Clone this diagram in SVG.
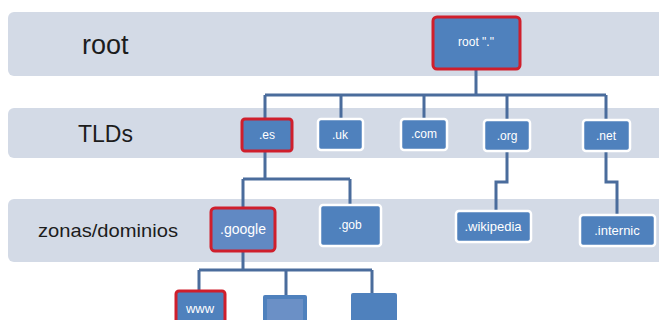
<svg xmlns="http://www.w3.org/2000/svg" width="659" height="320" viewBox="0 0 659 320">
<style>
.band{fill:#d3dae6}
.lbl{font-family:"Liberation Sans",Arial,sans-serif;fill:#1c1c1c}
.box{fill:#4f81bd;stroke:#ffffff;stroke-width:2.5}
.sel{fill:#4f81bd;stroke:#cf1f2c;stroke-width:3}
.t{font-family:"Liberation Sans",Arial,sans-serif;fill:#ffffff;font-size:12px;text-anchor:middle}
.c{fill:none;stroke:#4a6c9c;stroke-width:3;stroke-linejoin:miter}
</style>
<rect width="659" height="320" fill="#ffffff"/>
<g id="bands">
<rect class="band" x="8" y="12" width="660" height="64" rx="6"/>
<rect class="band" x="8" y="108" width="660" height="50" rx="6"/>
<rect class="band" x="8" y="199" width="660" height="63" rx="6"/>
<text class="lbl" x="82" y="54" font-size="27">root</text>
<text class="lbl" x="78" y="142" font-size="23">TLDs</text>
<text class="lbl" x="38" y="237" font-size="19" textLength="140" lengthAdjust="spacingAndGlyphs">zonas/dominios</text>
</g>
<g id="connectors">
<path class="c" d="M476 70V95M265 95H606M265 95V118M341 95V119M424 95V119M507 95V119M606 95V119"/>
<path class="c" d="M265 150V179M243 179H350M243 179V208M350 179V205"/>
<path class="c" d="M507 150V182H496V211"/>
<path class="c" d="M606 150V182H617V215"/>
<path class="c" d="M243 250V270M199 270H372M199 270V291M286 270V295M372 270V293"/>
</g>
<g id="root">
<rect class="sel" x="433" y="17" width="87" height="52" rx="4"/>
<text class="t" x="476" y="46">root "."</text>
</g>
<g id="es">
<rect class="sel" x="242" y="119" width="50" height="32" rx="3"/>
<text class="t" x="267" y="139">.es</text>
</g>
<g id="uk">
<rect class="box" x="318" y="119" width="45" height="31" rx="3"/>
<text class="t" x="340" y="139">.uk</text>
</g>
<g id="com">
<rect class="box" x="401" y="119" width="46" height="31" rx="3"/>
<text class="t" x="424" y="138">.com</text>
</g>
<g id="org">
<rect class="box" x="484" y="120" width="46" height="31" rx="3"/>
<text class="t" x="507" y="140">.org</text>
</g>
<g id="net">
<rect class="box" x="583" y="120" width="47" height="31" rx="3"/>
<text class="t" x="606" y="140">.net</text>
</g>
<g id="google">
<rect class="sel" x="211" y="208" width="64" height="43" rx="4" style="fill:#6189c3"/>
<text class="t" x="243" y="234" style="font-size:14px">.google</text>
</g>
<g id="gob">
<rect class="box" x="320" y="205" width="61" height="41" rx="3"/>
<text class="t" x="350" y="229">.gob</text>
</g>
<g id="wikipedia">
<rect class="box" x="456" y="211" width="75" height="31" rx="3"/>
<text class="t" x="493" y="231" style="font-size:13px">.wikipedia</text>
</g>
<g id="internic">
<rect class="box" x="580" y="215" width="75" height="31" rx="3"/>
<text class="t" x="617" y="235" style="font-size:13px">.internic</text>
</g>
<g id="www">
<rect class="sel" x="176" y="291" width="49" height="35" rx="3"/>
<text class="t" x="200" y="313" style="font-size:13px">www</text>
</g>
<g id="sub2">
<rect x="263" y="295" width="44" height="30" rx="2" fill="#4f81bd"/>
<rect x="267" y="299" width="36" height="26" fill="#6b90c6"/>
</g>
<g id="sub3">
<rect x="351" y="293" width="46" height="32" rx="2" fill="#4f81bd"/>
</g>
</svg>
